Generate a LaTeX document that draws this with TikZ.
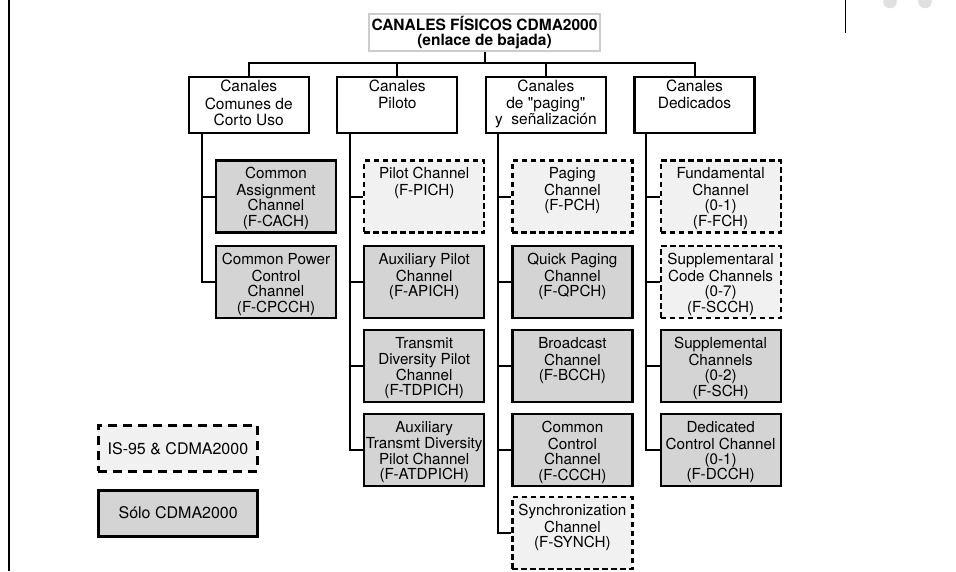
\documentclass[tikz,border=0pt]{standalone}
\usepackage{fontspec}
\setmainfont{TeX Gyre Heros}
\usetikzlibrary{calc}

\definecolor{onlyfill}{HTML}{D4D4D4}
\definecolor{bothfill}{HTML}{F1F1F1}
\definecolor{framegray}{HTML}{CCCCCC}
\definecolor{dotgray}{HTML}{E0E0E0}

% top-aligned text inside a fixed-size box: width, height, top gap, lines
\newcommand{\toptext}[4]{\parbox[c][#2][t]{#1}{\centering\vspace*{#3}\strut#4\par}}
\newcommand{\grouptext}[1]{\toptext{120pt}{56pt}{3.4pt}{#1}}
\newcommand{\chantext}[1]{\toptext{120pt}{72pt}{7pt}{#1}}

\tikzset{
  rootbox/.style={draw=framegray, line width=1.5pt, fill=white,
    minimum width=231pt, minimum height=37pt, inner sep=0pt, align=center,
    font=\bfseries\fontsize{15.5}{14.5}\selectfont},
  groupbox/.style={draw, line width=2.2pt, fill=white,
    minimum width=120pt, minimum height=56pt, inner sep=0pt,
    font=\fontsize{15.5}{16.2}\selectfont},
  chanbox/.style={draw, line width=2.2pt,
    minimum width=120pt, minimum height=72pt, inner sep=0pt,
    font=\fontsize{15.2}{15.4}\selectfont},
  newonly/.style={chanbox, fill=onlyfill},
  legacy/.style={chanbox, fill=bothfill, dash pattern=on 5.5pt off 3.5pt},
  keybox/.style={draw, line width=3pt, minimum width=159pt, minimum height=46pt,
    inner sep=0pt, font=\fontsize{16}{18}\selectfont},
  wire/.style={line width=2pt},
  edgerule/.style={line width=1.3pt},
}

\begin{document}
\begin{tikzpicture}[x=1pt, y=-1pt]
\useasboundingbox (0,0) rectangle (956,571);

% page furniture
\draw[edgerule] (9,0) -- (9,571);
\draw[edgerule] (845.3,0) -- (845.3,33);
\fill[dotgray] (890,1.5) circle[radius=6.8pt];
\fill[dotgray] (925,1.5) circle[radius=6.8pt];

% root
\node[rootbox] (root) at (484.5,32.5) {CANALES FÍSICOS CDMA2000\\(enlace de bajada)};

% channel groups
\node[groupbox] (ga) at (248.7,105) {\grouptext{Canales\\Comunes de\\Corto Uso}};
\node[groupbox] (gb) at (397.3,105) {\grouptext{Canales\\Piloto}};
\node[groupbox] (gc) at (545.9,105) {\grouptext{Canales\\de \textquotedbl paging\textquotedbl\\y\ \ señalización}};
\node[groupbox] (gd) at (694.5,105) {\grouptext{Canales\\Dedicados}};

% common short-use channels
\node[newonly] (a1) at (276,196.5) {\chantext{Common\\Assignment\\Channel\\(F-CACH)}};
\node[newonly] (a2) at (276,282)   {\chantext{Common Power\\Control\\Channel\\(F-CPCCH)}};

% pilot channels
\node[legacy]  (b1) at (424.2,196.5) {\chantext{Pilot Channel\\(F-PICH)}};
\node[newonly] (b2) at (424.2,282)   {\chantext{Auxiliary Pilot\\Channel\\(F-APICH)}};
\node[newonly] (b3) at (424.2,366)   {\chantext{Transmit\\Diversity Pilot\\Channel\\(F-TDPICH)}};
\node[newonly] (b4) at (424.2,450)   {\chantext{Auxiliary\\Transmt Diversity\\Pilot Channel\\(F-ATDPICH)}};

% paging and signalling channels
\node[legacy]  (c1) at (572.4,196.5) {\chantext{Paging\\Channel\\(F-PCH)}};
\node[newonly] (c2) at (572.4,282)   {\chantext{Quick Paging\\Channel\\(F-QPCH)}};
\node[newonly] (c3) at (572.4,366)   {\chantext{Broadcast\\Channel\\(F-BCCH)}};
\node[newonly] (c4) at (572.4,450)   {\chantext{Common\\Control\\Channel\\(F-CCCH)}};
\node[legacy]  (c5) at (572.4,533)   {\chantext{Synchronization\\Channel\\(F-SYNCH)}};

% dedicated channels
\node[legacy]  (d1) at (720.6,196.5) {\chantext{Fundamental\\Channel\\(0-1)\\(F-FCH)}};
\node[legacy]  (d2) at (720.6,282)   {\chantext{Supplementaral\\Code Channels\\(0-7)\\(F-SCCH)}};
\node[newonly] (d3) at (720.6,366)   {\chantext{Supplemental\\Channels\\(0-2)\\(F-SCH)}};
\node[newonly] (d4) at (720.6,450)   {\chantext{Dedicated\\Control Channel\\(0-1)\\(F-DCCH)}};

% legend
\node[keybox, fill=bothfill, dash pattern=on 9pt off 6pt] (keyboth) at (177.9,448.2) {IS-95 \& CDMA2000};
\node[keybox, fill=onlyfill] (keynew) at (178.2,513) {Sólo CDMA2000};

% root to groups
\coordinate (bus) at (484.5,63.3);
\draw[wire] (root.south) -- (root.south |- bus);
\draw[wire] (ga.north) |- (bus) -| (gd.north);
\draw[wire] (gb.north) -- (gb.north |- bus);
\draw[wire] (gc.north) -- (gc.north |- bus);

% groups to channels
\coordinate (ta) at ($(a1.west)+(-13.3,0)$);
\coordinate (tb) at ($(b1.west)+(-13.3,0)$);
\coordinate (tc) at ($(c1.west)+(-13.3,0)$);
\coordinate (td) at ($(d1.west)+(-13.3,0)$);
\foreach \k in {a1,a2} \draw[wire] (ta |- ga.south) |- (\k.west);
\foreach \k in {b1,b2,b3,b4} \draw[wire] (tb |- gb.south) |- (\k.west);
\foreach \k in {c1,c2,c3,c4,c5} \draw[wire] (tc |- gc.south) |- (\k.west);
\foreach \k in {d1,d2,d3,d4} \draw[wire] (td |- gd.south) |- (\k.west);
\end{tikzpicture}
\end{document}
